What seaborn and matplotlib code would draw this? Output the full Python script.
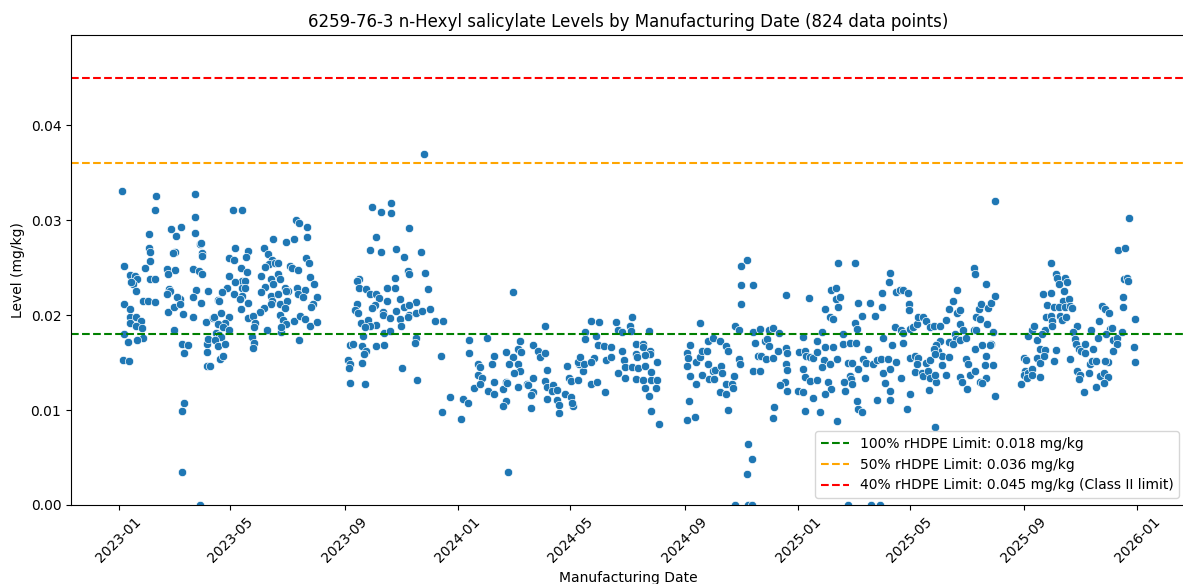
import pandas as pd
import matplotlib
matplotlib.use("Agg")  # no display, just write the file
import matplotlib.pyplot as plt
import matplotlib.dates as mdates
import seaborn as sns

START = pd.Timestamp("2023-01-01")

days_2023a = [3, 40, 39, 82, 82, 56, 67, 62, 32, 82, 87, 88, 32, 34, 60, 58, 89, 89, 34, 5,
              28, 52, 60, 80, 86, 90, 12, 17, 20, 15, 13, 33, 39, 53, 18, 54, 55, 52, 83, 96,
              26, 31, 39, 80, 88, 66, 63, 107, 5, 12, 12, 12, 18, 24, 18, 25, 26, 20, 5, 10,
              4, 11, 53, 59, 66, 69, 59, 68, 74, 70, 80, 94, 101, 95, 96, 95, 95, 105, 70, 68,
              68, 87]
level_2023a = [.0331, .0325, .0311, .0328, .0303, .0291, .0293, .0283, .0285, .0286, .0275, .0276,
               .0271, .0266, .0266, .0265, .0265, .0262, .0257, .0252, .0250, .0249, .0247, .0249,
               .0246, .0243, .0242, .0241, .0238, .0233, .0235, .0238, .0238, .0243, .0225, .0227,
               .0225, .0222, .0226, .0225, .0215, .0215, .0214, .0219, .0213, .0217, .0219, .0216,
               .0212, .0206, .0198, .0192, .0198, .0194, .0189, .0186, .0176, .0174, .0180, .0172,
               .0153, .0152, .0203, .0208, .0212, .0201, .0184, .0170, .0169, .0160, .0198, .0193,
               .0197, .0170, .0175, .0161, .0146, .0181, .0107, .0099, .0035, .0000]

days_2023b = [123, 133, 191, 194, 202, 202, 166, 180, 188, 125, 139, 156, 161, 118, 124, 137, 201,
              205, 165, 162, 168, 171, 131, 157, 184, 186, 193, 138, 171, 173, 118, 206, 210, 153,
              164, 166, 132, 136, 133, 136, 125, 116, 157, 179, 182, 192, 200, 193, 198, 111, 124,
              132, 130, 139, 153, 164, 165, 171, 173, 181, 180, 213, 209, 207, 108, 131, 164, 156,
              152, 179, 173, 177, 180, 188, 195, 200, 206, 213, 102, 110, 118, 114, 107, 112, 118,
              108, 110, 103, 107, 114, 109, 112, 139, 144, 146, 145, 143, 145, 144, 159, 174, 175,
              194, 98]
level_2023b = [.0311, .0311, .0300, .0297, .0293, .0282, .0280, .0277, .0280, .0271, .0268, .0271,
               .0264, .0260, .0258, .0261, .0260, .0255, .0258, .0254, .0255, .0255, .0250, .0251,
               .0252, .0250, .0248, .0245, .0243, .0238, .0241, .0240, .0233, .0241, .0238, .0233,
               .0236, .0236, .0229, .0229, .0235, .0229, .0230, .0228, .0225, .0229, .0226, .0222,
               .0219, .0224, .0222, .0220, .0217, .0213, .0224, .0220, .0215, .0222, .0212, .0215,
               .0225, .0219, .0212, .0208, .0215, .0206, .0212, .0207, .0203, .0207, .0200, .0195,
               .0191, .0194, .0199, .0196, .0189, .0193, .0198, .0202, .0198, .0192, .0191, .0187,
               .0184, .0179, .0177, .0174, .0167, .0170, .0154, .0157, .0197, .0199, .0192, .0187,
               .0177, .0171, .0165, .0184, .0182, .0187, .0174, .0146]

days_2023c = [328, 272, 282, 293, 293, 312, 277, 270, 282, 298, 307, 325, 311, 312, 329, 258, 256,
              297, 258, 266, 289, 297, 333, 270, 277, 280, 303, 320, 289, 256, 276, 272, 307, 312,
              254, 257, 284, 284, 298, 312, 320, 326, 335, 292, 303, 311, 340, 349, 261, 268, 277,
              270, 265, 263, 304, 285, 292, 320, 319, 249, 252, 262, 266, 264, 277, 285, 247, 249,
              248, 262, 305, 321, 249, 265]
level_2023c = [.0370, .0314, .0309, .0318, .0307, .0292, .0282, .0269, .0266, .0270, .0261, .0266,
               .0246, .0243, .0244, .0238, .0236, .0239, .0228, .0227, .0228, .0228, .0227, .0222,
               .0222, .0218, .0217, .0214, .0215, .0212, .0211, .0207, .0209, .0211, .0205, .0202,
               .0203, .0200, .0204, .0200, .0202, .0204, .0206, .0197, .0196, .0198, .0194, .0194,
               .0192, .0195, .0190, .0188, .0187, .0178, .0189, .0181, .0183, .0176, .0171, .0169,
               .0170, .0167, .0162, .0159, .0167, .0168, .0153, .0149, .0144, .0150, .0144, .0132,
               .0128, .0127]

days_2024 = [347, 348, 356, 368, 370, 376, 377, 377, 382, 387, 387, 424, 459, 396, 432, 446, 417,
             424, 430, 433, 404, 402, 451, 453, 459, 389, 391, 389, 420, 430, 432, 425, 461, 397,
             404, 404, 413, 417, 418, 417, 413, 430, 439, 440, 446, 446, 444, 444, 459, 461, 461,
             467, 466, 472, 472, 474, 474, 480, 487, 489, 488, 419, 482, 485, 487, 494, 500, 495,
             494, 496, 501, 511, 508, 502, 502, 508, 517, 514, 516, 522, 530, 524, 530, 508, 515,
             523, 535, 537, 542, 550, 552, 551, 571, 542, 544, 545, 537, 545, 557, 557, 558, 564,
             564, 572, 572, 566, 579, 552, 559, 566, 573, 557, 564, 573, 579, 566, 571, 578, 573,
             581]
level_2024 = [.0157, .0098, .0114, .0091, .0112, .0107, .0174, .0160, .0123, .0149, .0137, .0224,
              .0189, .0176, .0173, .0168, .0161, .0156, .0164, .0161, .0157, .0149, .0162, .0156,
              .0160, .0145, .0134, .0127, .0149, .0148, .0141, .0139, .0142, .0120, .0117, .0130,
              .0122, .0130, .0128, .0110, .0104, .0124, .0127, .0126, .0134, .0119, .0116, .0102,
              .0131, .0124, .0112, .0126, .0120, .0121, .0111, .0105, .0097, .0117, .0114, .0104,
              .0107, .0035, .0146, .0134, .0131, .0132, .0141, .0149, .0151, .0156, .0149, .0155,
              .0151, .0182, .0175, .0194, .0193, .0178, .0169, .0167, .0166, .0153, .0156, .0127,
              .0129, .0119, .0193, .0184, .0182, .0188, .0198, .0183, .0183, .0162, .0153, .0145,
              .0139, .0134, .0170, .0159, .0156, .0170, .0166, .0162, .0159, .0158, .0151, .0145,
              .0144, .0146, .0140, .0133, .0132, .0132, .0132, .0123, .0115, .0123, .0099, .0085]

days_2025a = [612, 620, 614, 611, 613, 611, 615, 615, 621, 626, 621, 626, 628, 633, 634, 628, 634,
              640, 647, 654, 656, 639, 642, 635, 641, 648, 649, 662, 647, 653, 654, 660, 661, 656,
              663, 668, 670, 670, 670, 676, 683, 668, 669, 677, 682, 676, 663, 677, 681, 683, 685,
              683, 690, 688, 691, 690, 695, 698, 700, 704, 700, 697, 704, 709, 711, 705, 704, 718,
              718, 719, 718, 719, 717, 712, 719, 732, 736, 738, 740, 744, 747, 751, 751, 736, 739,
              744, 751, 731, 736, 738, 747, 755, 743, 757, 760, 759, 757, 763, 766, 760, 765, 769,
              773, 760, 765, 769, 766, 772, 772, 776, 774, 774, 773, 779, 779, 787, 793, 785, 789,
              787, 788, 780, 782, 789, 794, 796, 800, 801, 804, 803, 796, 792, 794, 796, 800, 808,
              806, 792, 785, 810, 819]
level_2025a = [.0090, .0093, .0109, .0160, .0155, .0146, .0136, .0168, .0127, .0192, .0151, .0156,
               .0162, .0162, .0149, .0137, .0173, .0176, .0173, .0167, .0162, .0141, .0142, .0133,
               .0133, .0146, .0139, .0136, .0119, .0117, .0127, .0127, .0123, .0100, .0189, .0184,
               .0212, .0232, .0252, .0258, .0232, .0154, .0148, .0064, .0048, .0033, .0000, .0000,
               .0000, .0182, .0171, .0141, .0141, .0157, .0157, .0185, .0173, .0175, .0184, .0186,
               .0167, .0154, .0155, .0162, .0181, .0103, .0092, .0221, .0165, .0160, .0148, .0142,
               .0129, .0126, .0120, .0161, .0177, .0162, .0157, .0156, .0155, .0173, .0161, .0143,
               .0135, .0131, .0132, .0120, .0119, .0099, .0113, .0098, .0218, .0182, .0166, .0153,
               .0145, .0130, .0122, .0117, .0148, .0166, .0154, .0206, .0198, .0196, .0226, .0229,
               .0217, .0219, .0208, .0255, .0088, .0180, .0170, .0171, .0171, .0150, .0150, .0136,
               .0133, .0129, .0120, .0127, .0110, .0101, .0098, .0154, .0150, .0134, .0143, .0192,
               .0185, .0213, .0199, .0213, .0164, .0255, .0000, .0000, .0000]

days_2025b = [812, 816, 820, 814, 821, 821, 823, 823, 825, 828, 830, 830, 832, 830, 816, 836, 836,
              841, 844, 849, 850, 850, 835, 842, 844, 851, 855, 859, 844, 829, 830, 851, 857, 860,
              859, 857, 864, 865, 842, 851, 848, 869, 873, 871, 873, 879, 872, 878, 878, 882, 886,
              886, 890, 893, 860, 866, 869, 873, 877, 884, 890, 893, 898, 902, 902, 905, 905, 909,
              900, 901, 894, 898, 905, 884, 880, 877, 878, 905, 908, 913, 912, 914, 916, 921, 912,
              920, 923, 921, 920, 921, 923, 927, 926, 928, 929, 933, 934, 936, 939, 943, 933, 932,
              933, 927, 929, 941, 939, 941, 943, 938, 943]
level_2025b = [.0149, .0153, .0154, .0199, .0209, .0223, .0176, .0139, .0128, .0154, .0143, .0120,
               .0169, .0111, .0111, .0151, .0224, .0226, .0226, .0223, .0212, .0205, .0187, .0184,
               .0181, .0185, .0187, .0191, .0171, .0235, .0244, .0155, .0157, .0155, .0149, .0140,
               .0139, .0136, .0134, .0117, .0101, .0150, .0153, .0141, .0134, .0130, .0121, .0082,
               .0137, .0162, .0157, .0147, .0137, .0156, .0198, .0198, .0194, .0187, .0188, .0189,
               .0195, .0206, .0215, .0226, .0202, .0205, .0191, .0184, .0180, .0175, .0172, .0170,
               .0174, .0173, .0169, .0164, .0159, .0135, .0129, .0122, .0154, .0148, .0137, .0141,
               .0176, .0184, .0184, .0164, .0250, .0243, .0198, .0196, .0206, .0212, .0169, .0233,
               .0191, .0207, .0213, .0220, .0157, .0147, .0134, .0129, .0128, .0147, .0170, .0182,
               .0115, .0168, .0320]

days_2025c = [971, 974, 976, 975, 974, 979, 977, 983, 983, 991, 978, 983, 985, 988, 988, 991, 991,
              997, 996, 997, 994, 995, 1003, 999, 998, 1003, 1004, 1004, 1006, 1003, 1009, 1010,
              1012, 1018, 1020, 1017, 1016, 1012, 1018, 1023, 1024, 1026, 1013, 1015, 1019, 1009,
              1006, 1024, 1031, 1027, 1029, 1030, 1033, 1036, 1040, 1040, 1031, 1034, 1033, 1039,
              1044, 1045, 1047, 1048, 1052, 1054, 1055, 1046, 1058, 1061, 1066, 1067, 1063, 1065,
              1061, 1056, 1060, 1065, 1052, 1060, 1069, 1070, 1074, 1074, 1070, 1080, 1081, 1081,
              1082, 1085, 1086, 1075, 1083, 1087, 1094, 1093, 1094]
level_2025c = [.0127, .0155, .0153, .0141, .0137, .0139, .0134, .0143, .0137, .0135, .0178, .0184,
               .0189, .0174, .0155, .0150, .0164, .0163, .0157, .0184, .0180, .0222, .0223, .0211,
               .0198, .0199, .0194, .0188, .0208, .0255, .0243, .0239, .0233, .0239, .0235, .0225,
               .0215, .0209, .0208, .0217, .0210, .0207, .0199, .0195, .0198, .0163, .0152, .0154,
               .0189, .0182, .0175, .0170, .0164, .0162, .0170, .0160, .0141, .0137, .0133, .0119,
               .0139, .0149, .0152, .0164, .0152, .0176, .0194, .0184, .0210, .0206, .0202, .0185,
               .0180, .0151, .0152, .0136, .0139, .0135, .0124, .0128, .0186, .0174, .0176, .0170,
               .0162, .0182, .0219, .0208, .0238, .0239, .0236, .0269, .0271, .0302, .0196, .0166,
               .0151]

limit_values = [0.018, 0.036, 0.045]
limit_labels = ["100% rHDPE Limit: 0.018 mg/kg",
                "50% rHDPE Limit: 0.036 mg/kg",
                "40% rHDPE Limit: 0.045 mg/kg (Class II limit)"]
limit_colors = ["green", "orange", "red"]

TITLE = "6259-76-3 n-Hexyl salicylate Levels by Manufacturing Date (824 data points)"


def build_frame():
    pairs = [(days_2023a, level_2023a), (days_2023b, level_2023b), (days_2023c, level_2023c),
             (days_2024, level_2024), (days_2025a, level_2025a), (days_2025b, level_2025b),
             (days_2025c, level_2025c)]
    frames = []
    for days, levels in pairs:
        frames.append(pd.DataFrame({
            "date": START + pd.to_timedelta(days, unit="D"),
            "level": levels,
        }))
    return pd.concat(frames, ignore_index=True)


def plot(df):
    fig = plt.figure(figsize=(11.83, 5.84), dpi=100)
    # the original figure runs a little past the right edge, so the axes does too
    ax = fig.add_axes([0.0600, 0.1353, 0.9425, 0.8048])

    sns.scatterplot(data=df, x="date", y="level", ax=ax)

    for val, lab, col in zip(limit_values, limit_labels, limit_colors):
        ax.axhline(val, color=col, linestyle="--", label=lab)

    ax.set_ylim(0, 0.045 * 1.1)
    ax.xaxis.set_major_locator(mdates.MonthLocator(bymonth=[1, 5, 9]))
    ax.xaxis.set_major_formatter(mdates.DateFormatter("%Y-%m"))
    plt.setp(ax.get_xticklabels(), rotation=45)

    ax.set_title(TITLE, fontsize=12)
    ax.set_xlabel("Manufacturing Date")
    ax.set_ylabel("Level (mg/kg)")
    ax.legend(loc="lower right")

    fig.savefig("out.png", dpi=100)
    plt.close(fig)


if __name__ == "__main__":
    plot(build_frame())
